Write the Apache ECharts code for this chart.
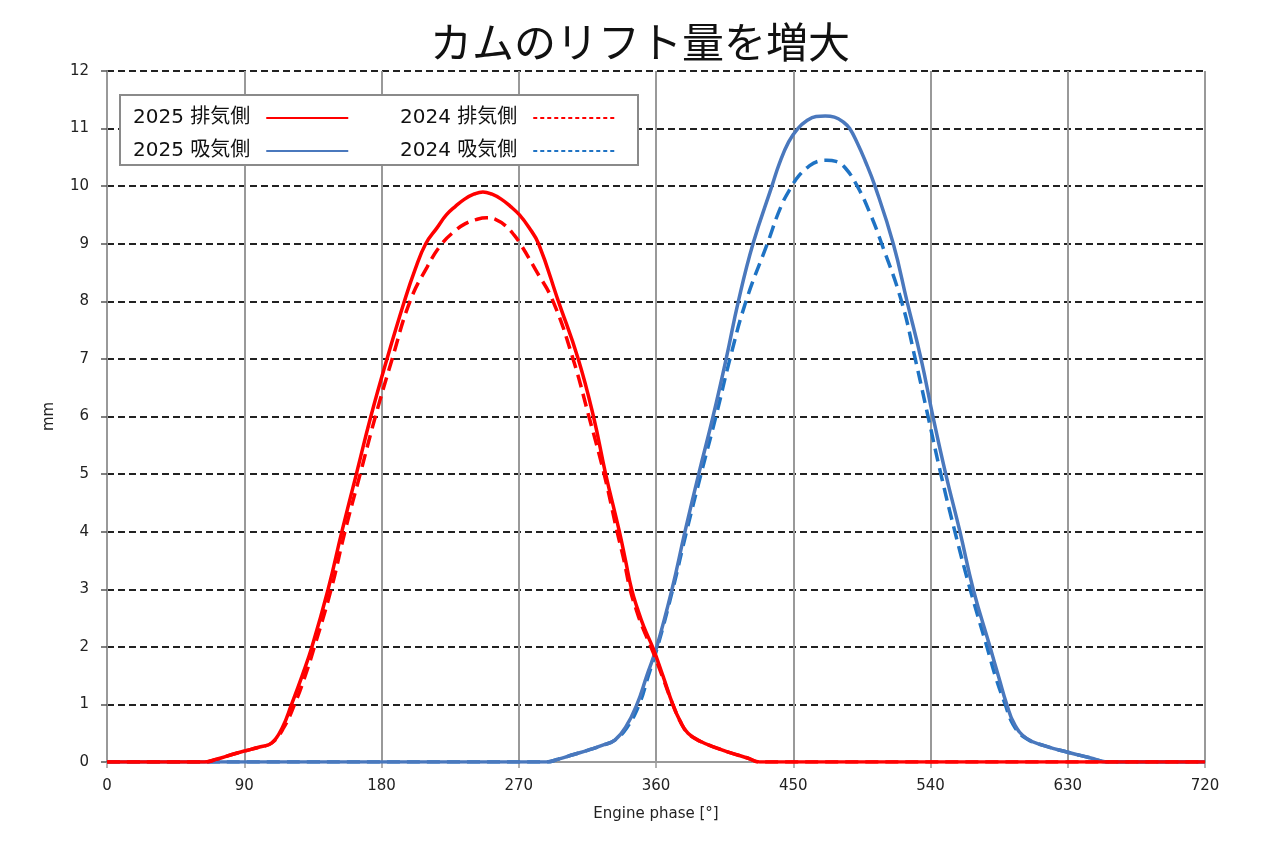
<!DOCTYPE html>
<html><head><meta charset="utf-8">
<script src="https://cdn.jsdelivr.net/npm/echarts@6/dist/echarts.min.js"></script>
<style>html,body{margin:0;padding:0;background:#fff}#c{width:1280px;height:853px}</style>
</head><body><div id="c"></div>
<script>
const titleText = 'カムのリフト量を増大';
const xTicks = [0, 90, 180, 270, 360, 450, 540, 630, 720];
const seriesNames = ['2025 排気側', '2025 吸気側', '2024 排気側', '2024 吸気側'];

const exh2025X = [0,64,72,82,90,100,108,115,121,128,134.4,145,154,163.5,173,183.6,195,202,209,216.5,222.5,228.5,234.5,240.5,246.5,252.5,258.5,264.5,270.5,276.5,283,296,309,319,327,336,340,344,348,352,358,364.5,371,376,381,389,400,410,420,428,720];
const exh2025Y = [0,0,0.05,0.13,0.19,0.26,0.33,0.6,1.0,1.5,2.0,3.0,4.0,5.0,6.0,7.0,8.0,8.55,9.0,9.28,9.5,9.65,9.775,9.86,9.9,9.86,9.775,9.65,9.5,9.29,9.0,8.0,7.0,6.0,5.0,4.0,3.5,3.0,2.65,2.35,1.98,1.5,1.0,0.7,0.5,0.36,0.24,0.15,0.07,0,0];

const exh2024X = [0,64,72,82,90,100,108,116,123,130,136,147,156,166,176,187,198.7,210,219.6,228,235,242,249,255,261,267,271,281,292.5,305.6,316,326,334.5,339,343,347,351,357,364,371,376,381,389,400,410,420,428,720];
const exh2024Y = [0,0,0.05,0.13,0.19,0.26,0.33,0.6,1.0,1.5,2.0,3.0,4.0,5.0,6.0,7.0,8.0,8.6,9.0,9.22,9.35,9.42,9.45,9.42,9.32,9.15,9.0,8.55,8.0,7.0,6.0,5.0,4.0,3.5,3.0,2.65,2.35,1.98,1.5,1.0,0.7,0.5,0.36,0.24,0.15,0.07,0,0];

const int2025X = [0,288,296,306,316,326,333,340,347.5,354,360.5,370.5,379,388,397.4,406,414,423.6,436,441,447,453,459,465,471,477,483,487,492,497,503.6,515.6,524.6,533.8,541.6,550,559.3,568,579,585,590,595,603,615,630,645,656,720];
const int2025Y = [0,0,0.05,0.13,0.21,0.3,0.38,0.6,1.0,1.5,2.0,3.0,4.0,5.0,6.0,7.0,8.0,9.0,10.0,10.4,10.77,11.0,11.14,11.21,11.22,11.2,11.11,11.0,10.75,10.45,10.0,9.0,8.0,7.0,6.0,5.0,4.0,3.0,2.0,1.45,1.0,0.66,0.41,0.28,0.17,0.07,0,0];

const int2024X = [0,288,296,306,316,326,333,341,349,355,361,371,380,389.5,399.3,408.5,419,433,442,449,454,460,466,472,478,484,492,500,508,521,530,538.4,546.8,556,566,577,583,589,594,602,615,630,645,656,720];
const int2024Y = [0,0,0.05,0.13,0.21,0.3,0.38,0.6,1.0,1.5,2.0,3.0,4.0,5.0,6.0,7.0,8.0,9.0,9.65,10.0,10.19,10.34,10.43,10.45,10.43,10.32,10.0,9.55,9.0,8.0,7.0,6.0,5.0,4.0,3.0,2.0,1.45,1.0,0.66,0.42,0.28,0.17,0.07,0,0];

function pairs(xs, ys){ return xs.map((x,i)=>[x, ys[i]]); }

const chart = echarts.init(document.getElementById('c'), null, {renderer:'canvas'});
const lineBase = {type:'line', showSymbol:false, symbol:'none', smooth:0.45};
const FONT = '"DejaVu Sans", "Noto Sans CJK JP", sans-serif';
const legendText = {color:'#111', fontSize:20, fontFamily:FONT, padding:[0,11,0,0]};
const hid = {opacity:0};
chart.setOption({
  animation:false,
  backgroundColor:'#fff',
  title:{text:titleText, left:'center', top:16, textStyle:{fontSize:42, fontWeight:'normal', color:'#111', fontFamily:'"Noto Sans CJK JP", sans-serif'}},
  grid:{left:107, right:75, top:71, bottom:91},
  graphic:[{type:'rect', left:119, top:94, shape:{width:518, height:70}, style:{fill:'#fff', stroke:'#8a8a8a', lineWidth:2}, z:5}],
  legend:[
    {left:128, top:103, orient:'vertical', align:'right', itemWidth:82, itemHeight:14, itemGap:13, z:10,
     textStyle:legendText,
     data:[{name:seriesNames[0], itemStyle:hid, lineStyle:{width:2, type:'solid'}}, {name:seriesNames[1], itemStyle:hid, lineStyle:{width:2, type:'solid'}}]},
    {left:395, top:103, orient:'vertical', align:'right', itemWidth:82, itemHeight:14, itemGap:13, z:10,
     textStyle:legendText,
     data:[{name:seriesNames[2], itemStyle:hid, lineStyle:{width:2, type:[4,3]}}, {name:seriesNames[3], itemStyle:hid, lineStyle:{width:2, type:[4,3]}}]}
  ],
  xAxis:{type:'value', min:0, max:720, interval:90,
    name:'Engine phase [°]', nameLocation:'middle', nameGap:45,
    nameTextStyle:{fontSize:15, color:'#222', fontFamily:FONT},
    axisLine:{lineStyle:{color:'#999', width:2}},
    axisTick:{show:true, length:6, lineStyle:{color:'#999', width:1.5}},
    axisLabel:{fontSize:15, color:'#222', margin:17, fontFamily:FONT},
    splitLine:{show:true, lineStyle:{color:'#999', width:2}}},
  yAxis:{type:'value', min:0, max:12, interval:1,
    name:'mm', nameLocation:'middle', nameGap:50,
    nameTextStyle:{fontSize:15, color:'#222', fontFamily:FONT},
    axisLine:{show:true, lineStyle:{color:'#999', width:2}},
    axisTick:{show:true, length:6, lineStyle:{color:'#555', width:1.5}},
    axisLabel:{fontSize:15, color:'#222', margin:18, fontFamily:FONT},
    splitLine:{show:true, lineStyle:{color:'#222', width:2, type:[7,4]}}},
  series:[
    Object.assign({}, lineBase, {name:seriesNames[3], data:pairs(int2024X,int2024Y), color:'#1f73c4', lineStyle:{width:3.5, type:[13,7], color:'#1f73c4'}, z:2}),
    Object.assign({}, lineBase, {name:seriesNames[1], data:pairs(int2025X,int2025Y), color:'#2f7fd0', lineStyle:{width:3.5, color:'#4a78bd'}, z:3}),
    Object.assign({}, lineBase, {name:seriesNames[2], data:pairs(exh2024X,exh2024Y), color:'#e8001c', lineStyle:{width:3.5, type:[13,7], color:'#ff0000'}, z:4}),
    Object.assign({}, lineBase, {name:seriesNames[0], data:pairs(exh2025X,exh2025Y), color:'#e8001c', lineStyle:{width:3.5, color:'#ff0000'}, z:5})
  ]
});
</script></body></html>
